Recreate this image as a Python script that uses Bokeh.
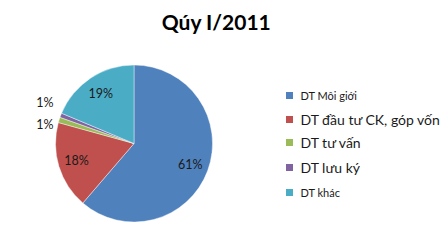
import math
from bokeh.plotting import figure
from bokeh.models import Range1d, ColumnDataSource
from bokeh.core.properties import value
from bokeh.embed import file_html
from bokeh.resources import INLINE

# ---- data ----
title = "Qúy I/2011"
categories = ["DT Môi giới", "DT đầu tư CK, góp vốn", "DT tư vấn", "DT lưu ký", "DT khác"]
values = [61.3, 18.0, 1.1, 0.9, 18.7]
labels = ["61%", "18%", "1%", "1%", "19%"]
colors = ["#4F81BD", "#C0504D", "#9BBB59", "#8064A2", "#4BACC6"]

W, H = 444, 241
p = figure(width=W, height=H, output_backend="svg", toolbar_location=None,
           x_range=Range1d(0, W), y_range=Range1d(0, H), min_border=0)
p.axis.visible = False
p.grid.visible = False
p.outline_line_color = None
p.background_fill_color = "white"
p.border_fill_color = "white"

cx, cy, R = 133.5, H - 143, 78.5
total = sum(values)
starts, ends, mids = [], [], []
acc = 0.0
for v in values:
    a0 = acc / total * 2 * math.pi
    acc += v
    a1 = acc / total * 2 * math.pi
    starts.append(math.pi / 2 - a1)
    ends.append(math.pi / 2 - a0)
    mids.append(math.pi / 2 - (a0 + a1) / 2)

src = ColumnDataSource(dict(start=starts, end=ends, color=colors))
p.wedge(x=cx, y=cy, radius=R, start_angle="start", end_angle="end",
        fill_color="color", line_color="white", line_width=0.6, line_alpha=0.7,
        source=src)

# labels
lx, ly = [], []
small = [i for i, v in enumerate(values) if v / total < 0.05]
outside_offsets = {}
for k, i in enumerate(small):
    outside_offsets[i] = (len(small) - 1 - k) * 21.7 - 10.8 * (len(small) - 1)
for i, m in enumerate(mids):
    if i in small:
        lx.append(cx - 89)
        base = cy + 96 * math.sin(sum(mids[j] for j in small) / len(small))
        ly.append(base - 2 + outside_offsets[i])
    else:
        lx.append(cx + 60 * math.cos(m))
        ly.append(cy + 60 * math.sin(m))
p.text(x=lx, y=ly, text=labels, text_font=value("Lato"), text_font_size="12.5px",
       text_color="#1a1a1a", text_align="center", text_baseline="middle")

# title
p.text(x=[W / 2 - 6], y=[H - 21], text=[title], text_font=value("Lato"),
       text_font_size="21px", text_font_style="bold", text_color="black",
       text_align="center", text_baseline="middle")

# legend
leg_y = [95, 119, 142, 167, 192]
leg_sizes = ["11px", "14px", "14px", "14px", "11px"]
p.scatter(x=[289] * len(categories), y=[H - y for y in leg_y], marker="square",
          size=7, fill_color=colors, line_color=None)
for i, cat in enumerate(categories):
    p.text(x=[300], y=[H - leg_y[i]], text=[cat], text_font=value("Lato"),
           text_font_size=leg_sizes[i], text_color="#1a1a1a",
           text_align="left", text_baseline="middle")

open("out.html", "w").write(file_html(p, INLINE))
